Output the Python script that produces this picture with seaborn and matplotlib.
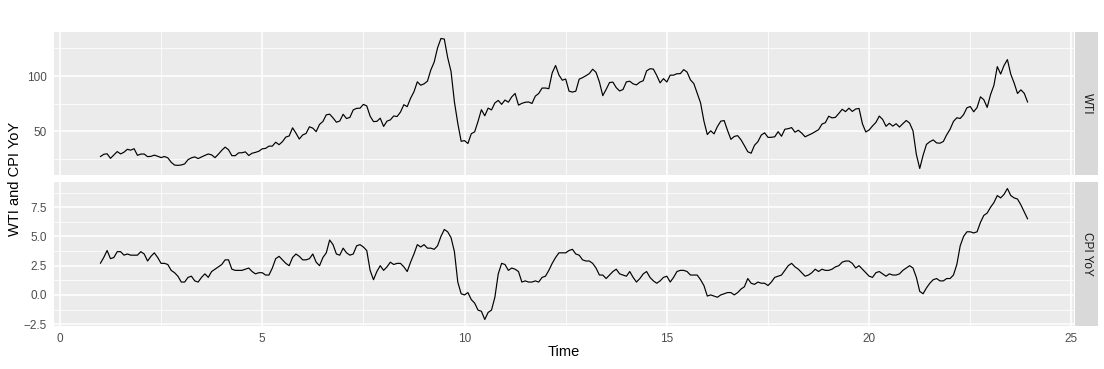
import numpy as np
import pandas as pd
import matplotlib
matplotlib.use("Agg")
import matplotlib.pyplot as plt
import seaborn as sns

# Monthly data, Jan 2000 .. Dec 2022 (Time = 1 at Jan 2000)
wti = [
    27.26, 29.37, 29.84, 25.72, 28.79, 31.82, 29.70, 31.26, 33.88, 33.11, 34.42, 28.44,
    29.59, 29.61, 27.25, 27.49, 28.63, 27.60, 26.43, 27.37, 26.20, 22.17, 19.64, 19.39,
    19.72, 20.72, 24.53, 26.18, 27.04, 25.52, 26.97, 28.39, 29.66, 28.84, 26.35, 29.46,
    32.95, 35.83, 33.51, 28.17, 28.11, 30.66, 30.75, 31.57, 28.31, 30.34, 31.11, 32.13,
    34.31, 34.69, 36.74, 36.75, 40.28, 38.03, 40.78, 44.90, 45.94, 53.28, 48.47, 43.15,
    46.84, 48.15, 54.19, 52.98, 49.83, 56.35, 59.00, 64.99, 65.59, 62.26, 58.32, 59.41,
    65.49, 61.63, 62.69, 69.44, 70.84, 70.95, 74.41, 73.04, 63.80, 58.89, 59.08, 61.96,
    54.51, 59.28, 60.44, 63.98, 63.45, 67.49, 74.12, 72.36, 79.92, 85.80, 94.77, 91.69,
    92.97, 95.39, 105.45, 112.58, 125.40, 133.88, 133.37, 116.67, 104.11, 76.61, 57.31, 41.12,
    41.71, 39.09, 47.94, 49.65, 59.03, 69.64, 64.15, 71.05, 69.41, 75.72, 77.99, 74.47,
    78.33, 76.39, 81.20, 84.29, 73.74, 75.34, 76.32, 76.60, 75.24, 81.89, 84.25, 89.15,
    89.17, 88.58, 102.86, 109.53, 100.90, 96.26, 97.30, 86.33, 85.52, 86.32, 97.16, 98.56,
    100.27, 102.20, 106.16, 103.32, 94.66, 82.30, 87.90, 94.13, 94.51, 89.49, 86.53, 87.86,
    94.76, 95.31, 92.94, 92.02, 94.51, 95.77, 104.67, 106.57, 106.29, 100.54, 93.86, 97.63,
    94.62, 100.82, 100.80, 102.07, 102.18, 105.79, 103.59, 96.54, 93.21, 84.40, 75.79, 59.29,
    47.22, 50.58, 47.82, 54.45, 59.27, 59.82, 50.90, 42.87, 45.48, 46.22, 42.44, 37.19,
    31.68, 30.32, 37.55, 40.75, 46.71, 48.76, 44.65, 44.72, 45.18, 49.78, 45.66, 51.97,
    52.50, 53.47, 49.33, 51.06, 48.48, 45.18, 46.63, 48.04, 49.82, 51.58, 56.64, 57.88,
    63.70, 62.23, 62.73, 66.25, 69.98, 67.87, 70.98, 68.06, 70.23, 70.75, 56.96, 49.52,
    51.38, 54.95, 58.15, 63.86, 60.83, 54.66, 57.35, 54.81, 56.95, 53.96, 57.03, 59.88,
    57.52, 50.54, 29.21, 16.55, 28.56, 38.31, 40.71, 42.34, 39.63, 39.40, 40.94, 47.02,
    52.00, 59.04, 62.33, 61.72, 65.17, 71.38, 72.49, 67.73, 71.54, 81.22, 78.65, 71.71,
    83.22, 91.64, 108.50, 101.78, 109.55, 114.84, 101.62, 93.67, 84.26, 87.55, 84.37, 76.44,
]
cpi_yoy = [
    2.7, 3.2, 3.8, 3.1, 3.2, 3.7, 3.7, 3.4, 3.5, 3.4, 3.4, 3.4,
    3.7, 3.5, 2.9, 3.3, 3.6, 3.2, 2.7, 2.7, 2.6, 2.1, 1.9, 1.6,
    1.1, 1.1, 1.5, 1.6, 1.2, 1.1, 1.5, 1.8, 1.5, 2.0, 2.2, 2.4,
    2.6, 3.0, 3.0, 2.2, 2.1, 2.1, 2.1, 2.2, 2.3, 2.0, 1.8, 1.9,
    1.9, 1.7, 1.7, 2.3, 3.1, 3.3, 3.0, 2.7, 2.5, 3.2, 3.5, 3.3,
    3.0, 3.0, 3.1, 3.5, 2.8, 2.5, 3.2, 3.6, 4.7, 4.3, 3.5, 3.4,
    4.0, 3.6, 3.4, 3.5, 4.2, 4.3, 4.1, 3.8, 2.1, 1.3, 2.0, 2.5,
    2.1, 2.4, 2.8, 2.6, 2.7, 2.7, 2.4, 2.0, 2.8, 3.5, 4.3, 4.1,
    4.3, 4.0, 4.0, 3.9, 4.2, 5.0, 5.6, 5.4, 4.9, 3.7, 1.1, 0.1,
    0.0, 0.2, -0.4, -0.7, -1.3, -1.4, -2.1, -1.5, -1.3, -0.2, 1.8, 2.7,
    2.6, 2.1, 2.3, 2.2, 2.0, 1.1, 1.2, 1.1, 1.1, 1.2, 1.1, 1.5,
    1.6, 2.1, 2.7, 3.2, 3.6, 3.6, 3.6, 3.8, 3.9, 3.5, 3.4, 3.0,
    2.9, 2.9, 2.7, 2.3, 1.7, 1.7, 1.4, 1.7, 2.0, 2.2, 1.8, 1.7,
    1.6, 2.0, 1.5, 1.1, 1.4, 1.8, 2.0, 1.5, 1.2, 1.0, 1.2, 1.5,
    1.6, 1.1, 1.5, 2.0, 2.1, 2.1, 2.0, 1.7, 1.7, 1.7, 1.3, 0.8,
    -0.1, 0.0, -0.1, -0.2, 0.0, 0.1, 0.2, 0.2, 0.0, 0.2, 0.5, 0.7,
    1.4, 1.0, 0.9, 1.1, 1.0, 1.0, 0.8, 1.1, 1.5, 1.6, 1.7, 2.1,
    2.5, 2.7, 2.4, 2.2, 1.9, 1.6, 1.7, 1.9, 2.2, 2.0, 2.2, 2.1,
    2.1, 2.2, 2.4, 2.5, 2.8, 2.9, 2.9, 2.7, 2.3, 2.5, 2.2, 1.9,
    1.6, 1.5, 1.9, 2.0, 1.8, 1.6, 1.8, 1.7, 1.7, 1.8, 2.1, 2.3,
    2.5, 2.3, 1.5, 0.3, 0.1, 0.6, 1.0, 1.3, 1.4, 1.2, 1.2, 1.4,
    1.4, 1.7, 2.6, 4.2, 5.0, 5.4, 5.4, 5.3, 5.4, 6.2, 6.8, 7.0,
    7.5, 7.9, 8.5, 8.3, 8.6, 9.1, 8.5, 8.3, 8.2, 7.7, 7.1, 6.5,
]
time = 1 + np.arange(len(wti)) / 12.0

panels = ["WTI", "CPI YoY"]
x_breaks = [0, 5, 10, 15, 20, 25]
y_breaks = {"WTI": [50, 100], "CPI YoY": [-2.5, 0.0, 2.5, 5.0, 7.5]}
y_minor = {"WTI": [25, 75, 125], "CPI YoY": [-1.25, 1.25, 3.75, 6.25, 8.75]}
x_minor = [2.5, 7.5, 12.5, 17.5, 22.5]

df = pd.DataFrame({
    "Time": np.concatenate([time, time]),
    "value": np.concatenate([wti, cpi_yoy]),
    "series": ["WTI"] * len(wti) + ["CPI YoY"] * len(cpi_yoy),
})

sns.set_theme(style="white")
plt.rcParams["font.family"] = ["Liberation Sans", "DejaVu Sans"]

W, H = 1104, 369
fig = plt.figure(figsize=(W / 100, H / 100), dpi=100)

def px_axes(x0, y0, x1, y1):
    return fig.add_axes([x0 / W, 1 - y1 / H, (x1 - x0) / W, (y1 - y0) / H])

panel_px = {"WTI": (54, 32, 1074, 175), "CPI YoY": (54, 182, 1074, 326)}
strip_px = {"WTI": (1075, 32, 1098, 175), "CPI YoY": (1075, 182, 1098, 326)}

def expand(lo, hi, f=0.05):
    d = (hi - lo) * f
    return lo - d, hi + d

xlim = expand(time.min(), time.max())
tick_col = "#4D4D4D"
fs_tick = 8.45
for name in panels:
    ax = px_axes(*panel_px[name])
    sub = df[df["series"] == name]
    ax.set_facecolor("#EBEBEB")
    for xm in x_minor:
        ax.axvline(xm, color="white", lw=0.55, zorder=0)
    for ym in y_minor[name]:
        ax.axhline(ym, color="white", lw=0.55, zorder=0)
    for xb in x_breaks:
        ax.axvline(xb, color="white", lw=1.1, zorder=0)
    for yb in y_breaks[name]:
        ax.axhline(yb, color="white", lw=1.1, zorder=0)
    sns.lineplot(data=sub, x="Time", y="value", ax=ax, color="black", linewidth=0.85,
                 estimator=None, sort=False, zorder=3)
    ax.set_xlim(*xlim)
    ax.set_ylim(*expand(sub["value"].min(), sub["value"].max()))
    for s in ax.spines.values():
        s.set_visible(False)
    ax.set_yticks(y_breaks[name])
    ax.set_yticklabels([("%g" % v) if name == "WTI" else ("%.1f" % v).replace("-", "\u2212") for v in y_breaks[name]])
    ax.set_xticks(x_breaks)
    ax.tick_params(axis="y", length=3.2, width=0.8, color="#333333", pad=2,
                   labelsize=fs_tick, labelcolor=tick_col)
    if name == "CPI YoY":
        ax.set_xticklabels([str(v) for v in x_breaks])
        ax.tick_params(axis="x", length=3.2, width=0.8, color="#333333", pad=2,
                       labelsize=fs_tick, labelcolor=tick_col)
    else:
        ax.tick_params(axis="x", length=0, labelbottom=False)
    ax.set_xlabel("")
    ax.set_ylabel("")
    # strip
    sx = px_axes(*strip_px[name])
    sx.set_facecolor("#D9D9D9")
    sx.set_xticks([]); sx.set_yticks([])
    for s in sx.spines.values():
        s.set_visible(False)
    sx.text(0.5, 0.5, name, rotation=-90, ha="center", va="center",
            fontsize=fs_tick, color="#1A1A1A", transform=sx.transAxes)

fig.text(564 / W, 1 - 352 / H, "Time", ha="center", va="center", fontsize=10.56, color="black")
fig.text(15 / W, 1 - 179 / H, "WTI and CPI YoY", ha="center", va="center", rotation=90,
         fontsize=10.56, color="black")

fig.savefig("out.png", dpi=100, facecolor="white")
